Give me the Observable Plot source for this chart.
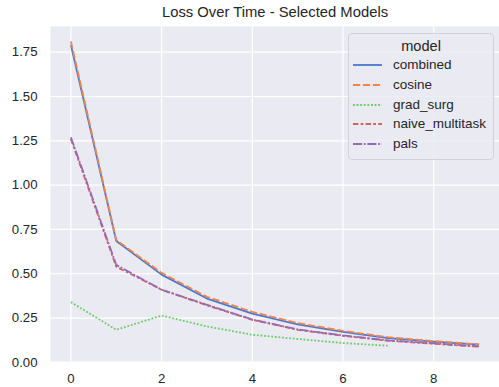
<!DOCTYPE html>
<html>
<head>
<meta charset="utf-8">
<script src="https://cdn.jsdelivr.net/npm/d3@7"></script>
<script src="https://cdn.jsdelivr.net/npm/@observablehq/plot@0.6"></script>
<style>
  html, body { margin: 0; padding: 0; background: #fff; }
  #wrap { position: relative; width: 499px; height: 387px; font-family: "Liberation Sans", Arial, sans-serif; color: #262626; }
  #title { position: absolute; left: 75px; width: 400px; top: 2px; text-align: center; font-size: 14.8px; line-height: 20px; white-space: nowrap; }
  #legend { position: absolute; left: 348px; top: 33px; width: 144px; height: 125px; background: rgba(234,234,242,0.8); border: 1px solid #d2d2d8; border-radius: 4px; }
  #legend .lt { position: absolute; left: 0; width: 144px; top: 2px; text-align: center; font-size: 14.6px; line-height: 20px; }
  #legend .row { position: absolute; left: 0; height: 20px; width: 144px; }
  #legend .row svg { position: absolute; left: 4px; top: 0; }
  #legend .row span { position: absolute; left: 44px; top: 0; font-size: 13.5px; line-height: 20px; }
</style>
</head>
<body>
<div id="wrap">
  <div id="chart"></div>
  <div id="title"></div>
  <div id="legend"></div>
</div>
<script>
const titleText = "Loss Over Time - Selected Models";
const legendTitle = "model";
const epochs = [0, 1, 2, 3, 4, 5, 6, 7, 8, 9];
const combined = [1.79, 0.685, 0.495, 0.36, 0.275, 0.215, 0.172, 0.137, 0.117, 0.10];
const cosine = [1.81, 0.69, 0.505, 0.37, 0.285, 0.222, 0.178, 0.142, 0.12, 0.102];
const grad_surg = [0.34, 0.184, 0.264, 0.203, 0.156, 0.132, 0.109, 0.094];
const naive_multitask = [1.26, 0.54, 0.41, 0.322, 0.24, 0.184, 0.15, 0.122, 0.105, 0.088];
const pals = [1.27, 0.55, 0.41, 0.325, 0.242, 0.186, 0.152, 0.124, 0.108, 0.09];
const seriesNames = ["combined", "cosine", "grad_surg", "naive_multitask", "pals"];
const seriesValues = [combined, cosine, grad_surg, naive_multitask, pals];
const colors = ["#4878D0", "#EE854A", "#6ACC64", "#D65F5F", "#956CB4"];
const dashes = [null, "7.2,2.7", "1.8,1.8", "5.4,2.25,2.7,2.25", "9,1.8,1.8,1.8"];
const xTicks = [0, 2, 4, 6, 8];
const yTicks = [0, 0.25, 0.5, 0.75, 1.0, 1.25, 1.5, 1.75];

const rows = [];
seriesNames.forEach((name, i) => {
  seriesValues[i].forEach((v, j) => rows.push({model: name, epoch: epochs[j], loss: v}));
});

const lineMarks = seriesNames.map((name, i) =>
  Plot.line(rows.filter(d => d.model === name), {
    x: "epoch", y: "loss", stroke: colors[i], strokeWidth: 1.8,
    strokeDasharray: dashes[i] || undefined, strokeLinejoin: "round", strokeLinecap: "butt"
  })
);

const chart = Plot.plot({
  width: 499,
  height: 387,
  marginLeft: 50,
  marginRight: 0,
  marginTop: 26,
  marginBottom: 26,
  style: { fontFamily: "'Liberation Sans', Arial, sans-serif", fontSize: "13.2px", color: "#262626", background: "#fff" },
  x: { domain: [-0.45, 9.45] },
  y: { domain: [0.005, 1.895] },
  marks: [
    Plot.frame({ fill: "#EAEAF2", stroke: null }),
    Plot.gridX(xTicks, { stroke: "#fff", strokeOpacity: 1, strokeWidth: 1.2 }),
    Plot.gridY(yTicks, { stroke: "#fff", strokeOpacity: 1, strokeWidth: 1.2 }),
    ...lineMarks,
    Plot.axisX(xTicks, { tickSize: 0, tickPadding: 12, label: null, fontSize: 13.2, fill: "#262626" }),
    Plot.axisY(yTicks, { tickSize: 0, tickPadding: 13, label: null, tickFormat: d3.format(".2f"), fontSize: 13.2, fill: "#262626" })
  ]
});
document.getElementById("chart").appendChild(chart);
document.getElementById("title").textContent = titleText;

const legend = document.getElementById("legend");
const lt = document.createElement("div");
lt.className = "lt";
lt.textContent = legendTitle;
legend.appendChild(lt);
seriesNames.forEach((name, i) => {
  const row = document.createElement("div");
  row.className = "row";
  row.style.top = (21.3 + 19.7 * i) + "px";
  const svg = d3.create("svg").attr("width", 30).attr("height", 20);
  svg.append("line").attr("x1", 0).attr("x2", 29).attr("y1", 10).attr("y2", 10)
    .attr("stroke", colors[i]).attr("stroke-width", 1.8)
    .attr("stroke-dasharray", dashes[i] || null);
  row.appendChild(svg.node());
  const sp = document.createElement("span");
  sp.textContent = name;
  row.appendChild(sp);
  legend.appendChild(row);
});
</script>
</body>
</html>
